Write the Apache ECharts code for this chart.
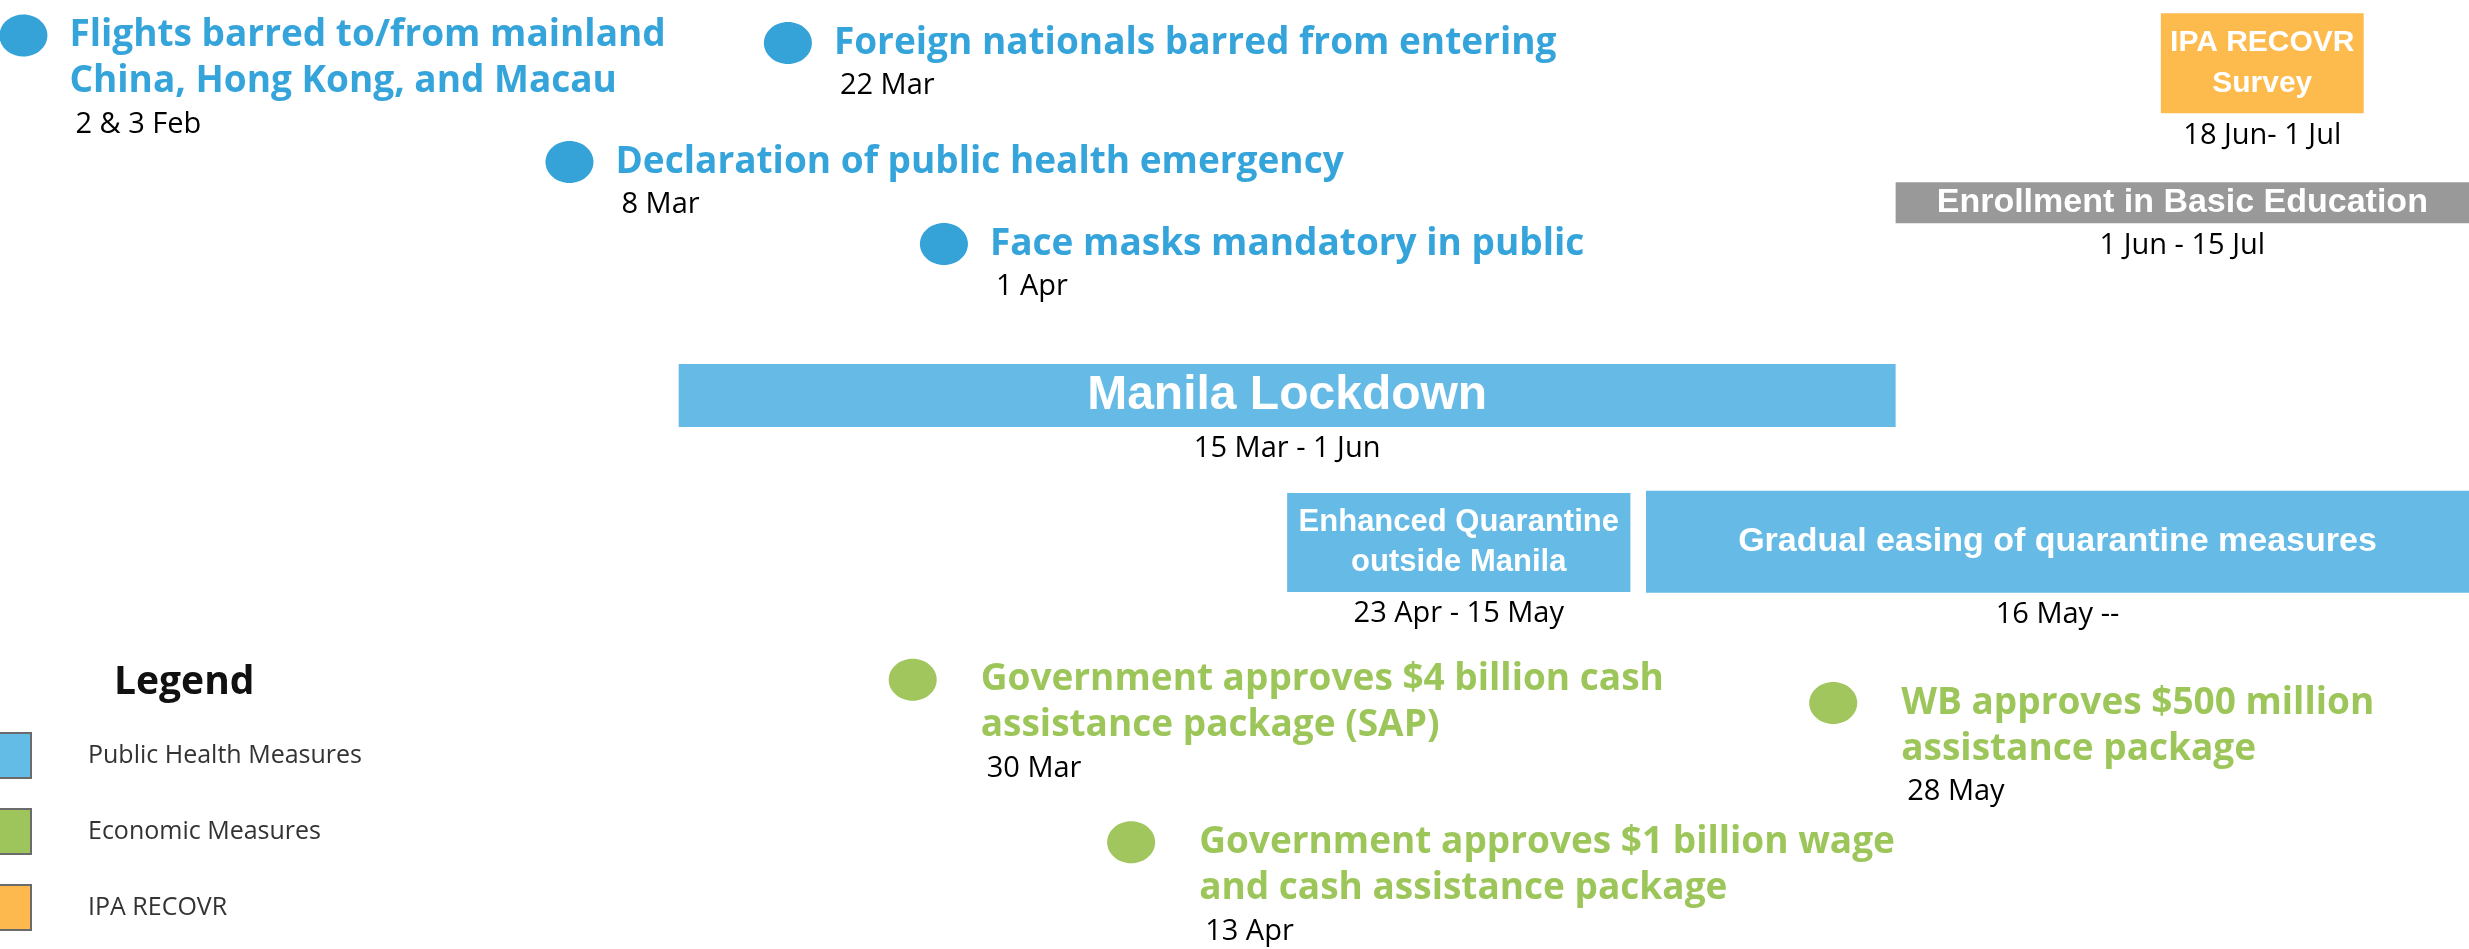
<!DOCTYPE html>
<html>
<head>
<meta charset="utf-8">
<style>
html, body { margin: 0; padding: 0; background: #fff; }
#main { width: 2469px; height: 949px; }
</style>
<script src="https://cdn.jsdelivr.net/npm/echarts@6/dist/echarts.min.js"></script>
</head>
<body>
<div id="main"></div>
<script>
// one-day events: dot on the date, title to the right
var pointTitles = [
	'Flights barred to/from mainland\nChina, Hong Kong, and Macau',
	'Foreign nationals barred from entering',
	'Declaration of public health emergency',
	'Face masks mandatory in public',
	'Government approves $4 billion cash\nassistance package (SAP)',
	'Government approves $1 billion wage\nand cash assistance package',
	'WB approves $500 million\nassistance package'
];
var pointDates = ['2020-02-02', '2020-03-22', '2020-03-08', '2020-04-01', '2020-03-30', '2020-04-13', '2020-05-28'];
var pointDateLabels = ['2 & 3 Feb', '22 Mar', '8 Mar', '1 Apr', '30 Mar', '13 Apr', '28 May'];
var pointLanes = [0.9, 1.09, 4.1, 6.17, 17.19, 21.3, 17.78];
var pointGroups = ['health', 'health', 'health', 'health', 'economic', 'economic', 'economic'];

// periods: box from start to end (no end = still going)
var rangeTitles = [
	'Manila Lockdown',
	'Enhanced Quarantine\noutside Manila',
	'Gradual easing of quarantine measures',
	'IPA RECOVR\nSurvey',
	'Enrollment in Basic Education'
];
var rangeStarts = ['2020-03-15', '2020-04-23', '2020-05-16', '2020-06-18', '2020-06-01'];
var rangeEnds = ['2020-06-01', '2020-05-15', null, '2020-07-01', '2020-07-15'];
var rangeDateLabels = ['15 Mar - 1 Jun', '23 Apr - 15 May', '16 May --', '18 Jun- 1 Jul', '1 Jun - 15 Jul'];
var rangeLanes = [10.0, 13.72, 13.7, 1.6, 5.13];
var rangeGroups = ['health', 'health', 'health', 'recovr', 'other'];

var legendNames = ['Public Health Measures', 'Economic Measures', 'IPA RECOVR'];

var xMin = new Date(2020, 0, 31, 12).getTime();
var xMax = new Date(2020, 6, 7, 18).getTime();

var groupName = {health: 'Public Health Measures', economic: 'Economic Measures', recovr: 'IPA RECOVR', other: 'Enrollment'};
var colors = {
	health: {legend: '#63bce6', dot: '#35a2d8', text: '#35a4da', box: '#65bbe6'},
	economic: {legend: '#9dc55b', dot: '#a0c65d', text: '#9dc65a'},
	recovr: {legend: '#fdb94e', box: '#fdba4d'},
	other: {legend: '#999999', box: '#999999'}
};
// box height / font per period
var boxStyle = [
	{h: 63, size: 48, lh: 50},
	{h: 99, size: 31, lh: 40},
	{h: 102, size: 34, lh: 40},
	{h: 100, size: 30, lh: 41},
	{h: 41, size: 34, lh: 40}
];

function pick(list, g) {
	var out = [];
	list.forEach(function (v, i) { if (v === g) out.push(i); });
	return out;
}

function pointRenderer(idxs) {
	return function (params, api) {
		var i = idxs[params.dataIndex];
		var c = colors[pointGroups[i]];
		var p = api.coord([api.value(0), api.value(1)]);
		var lines = pointTitles[i].split('\n').length;
		var tx = p[0] + (pointGroups[i] === 'economic' ? 68 : 46);
		return {
			type: 'group',
			children: [
				{type: 'ellipse', shape: {cx: p[0], cy: p[1], rx: 24, ry: 21}, style: {fill: c.dot}},
				{type: 'text', x: tx, y: p[1] - 23, style: {
					text: pointTitles[i], fill: c.text, fontFamily: 'Open Sans', fontWeight: 'bold',
					fontSize: 37, lineHeight: 46, align: 'left', verticalAlign: 'top'
				}},
				{type: 'text', x: tx + 6, y: p[1] + (lines - 1) * 46 + 43, style: {
					text: pointDateLabels[i], fill: '#000', fontFamily: 'Open Sans',
					fontSize: 29, align: 'left', verticalAlign: 'middle'
				}}
			]
		};
	};
}

function rangeRenderer(idxs) {
	return function (params, api) {
		var i = idxs[params.dataIndex];
		var st = boxStyle[i];
		var a = api.coord([api.value(0), api.value(2)]);
		var b = api.coord([api.value(1), api.value(2)]);
		var cs = params.coordSys;
		var rect = echarts.graphic.clipRectByRect(
			{x: a[0], y: a[1] - st.h / 2, width: b[0] - a[0], height: st.h},
			{x: cs.x, y: cs.y, width: cs.width, height: cs.height}
		);
		if (!rect) return;
		var cx = rect.x + rect.width / 2;
		return {
			type: 'group',
			children: [
				{type: 'rect', shape: rect, style: {fill: colors[rangeGroups[i]].box}},
				{type: 'text', x: cx, y: a[1], style: {
					text: rangeTitles[i], fill: '#fff', fontFamily: '"Liberation Sans", Arial', fontWeight: 'bold',
					fontSize: st.size, lineHeight: st.lh, align: 'center', verticalAlign: 'middle'
				}},
				{type: 'text', x: cx, y: a[1] + st.h / 2 + 22, style: {
					text: rangeDateLabels[i], fill: '#000', fontFamily: 'Open Sans',
					fontSize: 29, align: 'center', verticalAlign: 'middle'
				}}
			]
		};
	};
}

var series = [];
['health', 'economic'].forEach(function (g) {
	var idxs = pick(pointGroups, g);
	series.push({
		type: 'custom',
		name: groupName[g],
		itemStyle: {color: colors[g].legend},
		renderItem: pointRenderer(idxs),
		encode: {x: 0, y: 1},
		data: idxs.map(function (i) { return [pointDates[i], pointLanes[i]]; })
	});
});
['health', 'recovr', 'other'].forEach(function (g) {
	var idxs = pick(rangeGroups, g);
	series.push({
		type: 'custom',
		name: groupName[g],
		itemStyle: {color: colors[g].legend},
		renderItem: rangeRenderer(idxs),
		encode: {x: [0, 1], y: 2},
		data: idxs.map(function (i) {
			return [rangeStarts[i], rangeEnds[i] || xMax, rangeLanes[i]];
		})
	});
});

var myChart = echarts.init(document.getElementById('main'));
myChart.setOption({
	animation: false,
	title: {
		text: 'Legend', left: 114, top: 663, padding: 0,
		textStyle: {fontFamily: 'Open Sans', fontWeight: 'bold', fontSize: 39, color: '#111'}
	},
	legend: {
		data: legendNames,
		orient: 'vertical',
		left: -15,
		top: 732,
		padding: 0,
		icon: 'rect',
		itemWidth: 45,
		itemHeight: 45,
		itemGap: 29,
		selectedMode: false,
		itemStyle: {borderColor: '#6b6b6b', borderWidth: 2},
		textStyle: {fontFamily: 'Open Sans', fontSize: 25, color: '#333', padding: [0, 0, 0, 52]}
	},
	grid: {left: 0, right: 0, top: 0, bottom: 0},
	xAxis: {type: 'time', min: xMin, max: xMax, show: false},
	yAxis: {type: 'value', min: 0, max: 24, inverse: true, show: false},
	series: series
});
</script>
</body>
</html>
